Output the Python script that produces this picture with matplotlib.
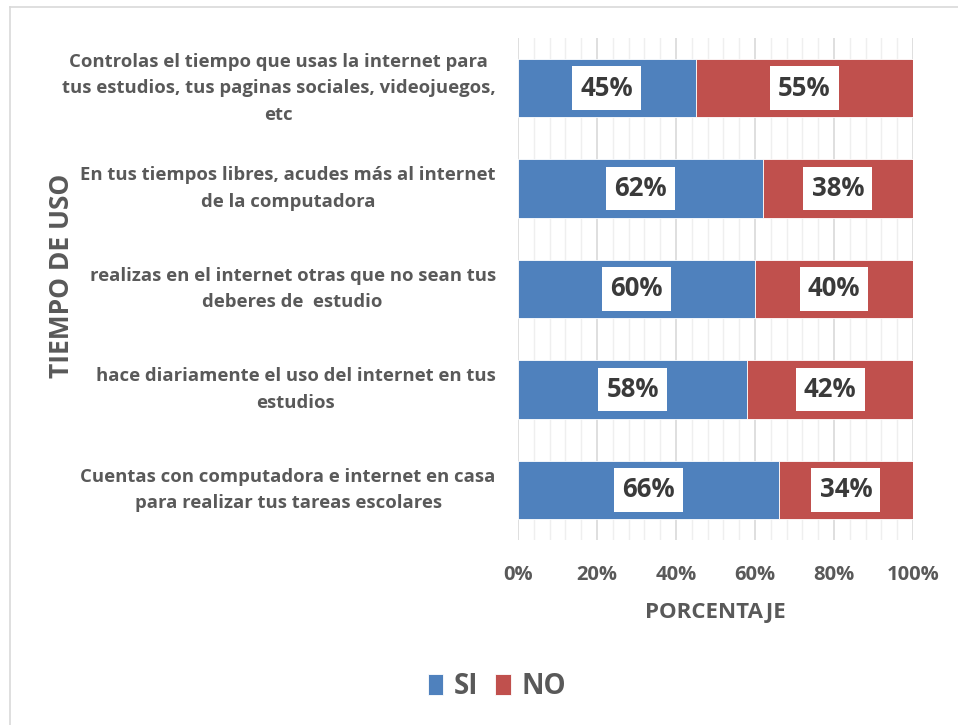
import matplotlib
matplotlib.use("Agg")
import matplotlib.pyplot as plt
from matplotlib.lines import Line2D
from matplotlib.ticker import MultipleLocator, PercentFormatter
import numpy as np

# datos (de abajo hacia arriba)
categorias = [
    "Cuentas con computadora e internet en casa\npara realizar tus tareas escolares",
    "hace diariamente el uso del internet en tus\nestudios",
    "realizas en el internet otras que no sean tus\ndeberes de  estudio",
    "En tus tiempos libres, acudes más al internet\nde la computadora",
    "Controlas el tiempo que usas la internet para\ntus estudios, tus paginas sociales, videojuegos,\netc",
]
si = [66, 58, 60, 62, 45]
no = [34, 42, 40, 38, 55]

azul = "#4F81BD"
rojo = "#C0504D"
gris = "#595959"

plt.rcParams['font.family'] = ['Open Sans', 'DejaVu Sans']

fig = plt.figure(figsize=(9.58, 7.25), dpi=100)
ax = fig.add_axes([518/958, 1-540/725, (913-518)/958, (540-38)/725])

y = np.arange(len(categorias))
b1 = ax.barh(y, si, height=0.58, color=azul, edgecolor="white", linewidth=0.6, label="SI", zorder=3)
b2 = ax.barh(y, no, left=si, height=0.58, color=rojo, edgecolor="white", linewidth=0.6, label="NO", zorder=3)

for bars in (b1, b2):
    for rect in bars:
        w = rect.get_width()
        cx = rect.get_x() + w/2
        cy = rect.get_y() + rect.get_height()/2
        ax.text(cx, cy, "%d%%" % w, ha="center", va="center", fontsize=18.5, fontweight="bold",
                color="#3A3A3A", zorder=5,
                bbox=dict(boxstyle="square,pad=0.32", facecolor="white", edgecolor="none"))

ax.set_xlim(0, 100)
ax.set_ylim(-0.5, len(categorias)-0.5)
ax.xaxis.set_major_locator(MultipleLocator(20))
ax.xaxis.set_minor_locator(MultipleLocator(4))
ax.xaxis.set_major_formatter(PercentFormatter(decimals=0))
ax.grid(axis="x", which="major", color="#D9D9D9", linewidth=1.2, zorder=0)
ax.grid(axis="x", which="minor", color="#EFEFEF", linewidth=1.0, zorder=0)
ax.set_axisbelow(True)
for s in ax.spines.values():
    s.set_visible(False)

ax.set_yticks(y)
ax.set_yticklabels(categorias, fontsize=13.3, fontweight="bold", color=gris, linespacing=1.6, va="center")
for lab in ax.get_yticklabels():
    lab.set_multialignment("center")
ax.tick_params(axis="y", length=0, pad=16)
ax.tick_params(axis="x", which="both", length=0, pad=18, labelsize=14.5, labelcolor=gris)
for lab in ax.get_xticklabels():
    lab.set_fontweight("bold")

ax.set_xlabel("PORCENTAJE", fontsize=16, fontweight="bold", color=gris, labelpad=12)
fig.text(62/958, 1-276/725, "TIEMPO DE USO", rotation=90, ha="center", va="center",
         fontsize=19, fontweight="bold", color=gris)

fig.legend(handles=[b1, b2], labels=["SI", "NO"], loc="center", bbox_to_anchor=(497/958, 1-687/725),
           ncol=2, frameon=False, prop={"weight": "bold", "size": 20},
           handlelength=0.55, handleheight=0.8, handletextpad=0.4, columnspacing=0.6, labelcolor=gris)

# marco del grafico
fig.add_artist(Line2D([10/958, 10/958], [0, 1-7/725], color="#D9D9D9", linewidth=1.2))
fig.add_artist(Line2D([10/958, 1], [1-7/725, 1-7/725], color="#D9D9D9", linewidth=1.2))

fig.savefig("out.png", dpi=100)
